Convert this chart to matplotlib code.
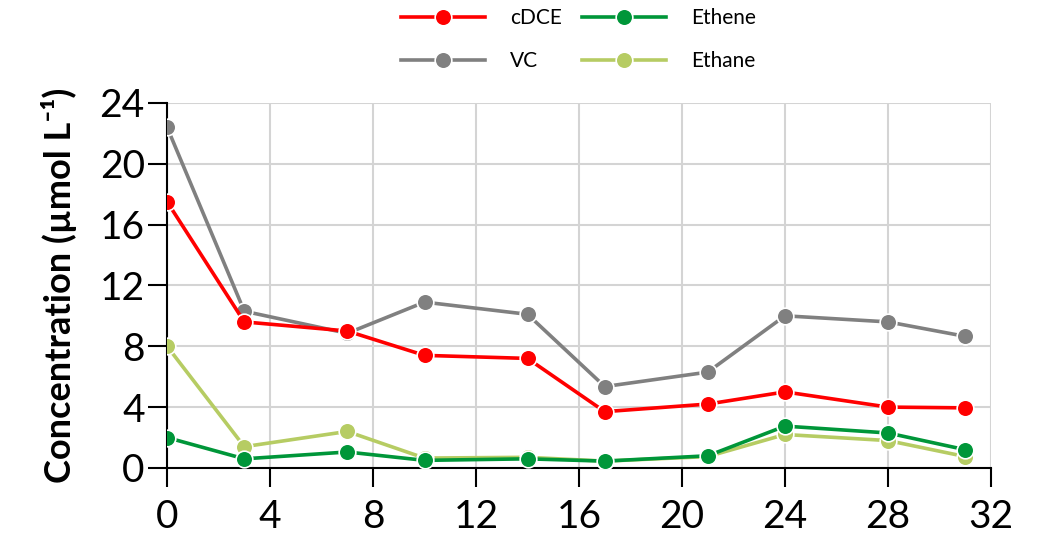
import matplotlib.pyplot as plt
import numpy as np

plt.rcParams['font.family'] = ['Lato', 'DejaVu Sans']

days = [0, 3, 7, 10, 14, 17, 21, 24, 28, 31]
cdce = [17.5, 9.6, 9.0, 7.4, 7.2, 3.7, 4.2, 5.0, 4.0, 3.95]
vc = [22.4, 10.3, 8.85, 10.9, 10.1, 5.35, 6.3, 10.0, 9.6, 8.65]
ethene = [2.0, 0.6, 1.05, 0.5, 0.6, 0.45, 0.8, 2.75, 2.3, 1.2]
ethane = [8.0, 1.4, 2.4, 0.65, 0.7, 0.45, 0.75, 2.2, 1.8, 0.75]

fig = plt.figure(figsize=(10.46, 5.41), dpi=100)
ax = fig.add_axes([0.1597, 0.135, 0.7877, 0.675])

style = dict(lw=2.6, marker='o', ms=12, mec='white', mew=1.2)
ax.plot(days, ethane, color='#B6CC63', zorder=3, label='Ethane', **style)
ax.plot(days, ethene, color='#009639', zorder=4, label='Ethene', **style)
ax.plot(days, vc, color='#808080', zorder=5, label='VC', **style)
ax.plot(days, cdce, color='#FF0000', zorder=6, label='cDCE', **style)

ax.set_xlim(0, 32)
ax.set_ylim(0, 24)
ax.set_xticks(np.arange(0, 33, 4))
ax.set_yticks(np.arange(0, 25, 4))
ax.grid(True, color='#D4D4D4', lw=1.5)
ax.set_axisbelow(True)
for side in ['top', 'right']:
    ax.spines[side].set_visible(False)
for side in ['left', 'bottom']:
    ax.spines[side].set_linewidth(1.5)
ax.tick_params(axis='both', labelsize=28, width=1.5, length=14, direction='out')
ax.tick_params(axis='x', pad=8)
ax.tick_params(axis='y', pad=2)
ax.set_ylabel('Concentration (µmol L⁻¹)', fontsize=26, fontweight='bold', labelpad=16)

h, l = ax.get_legend_handles_labels()
order = [3, 2, 1, 0]
fig.legend([h[i] for i in order], [l[i] for i in order], ncol=2, frameon=False,
           loc='upper center', bbox_to_anchor=(0.553, 1.02), fontsize=15,
           handlelength=4.0, handletextpad=1.2, columnspacing=1.0, labelspacing=1.1)

fig.savefig('out.png', dpi=100)
